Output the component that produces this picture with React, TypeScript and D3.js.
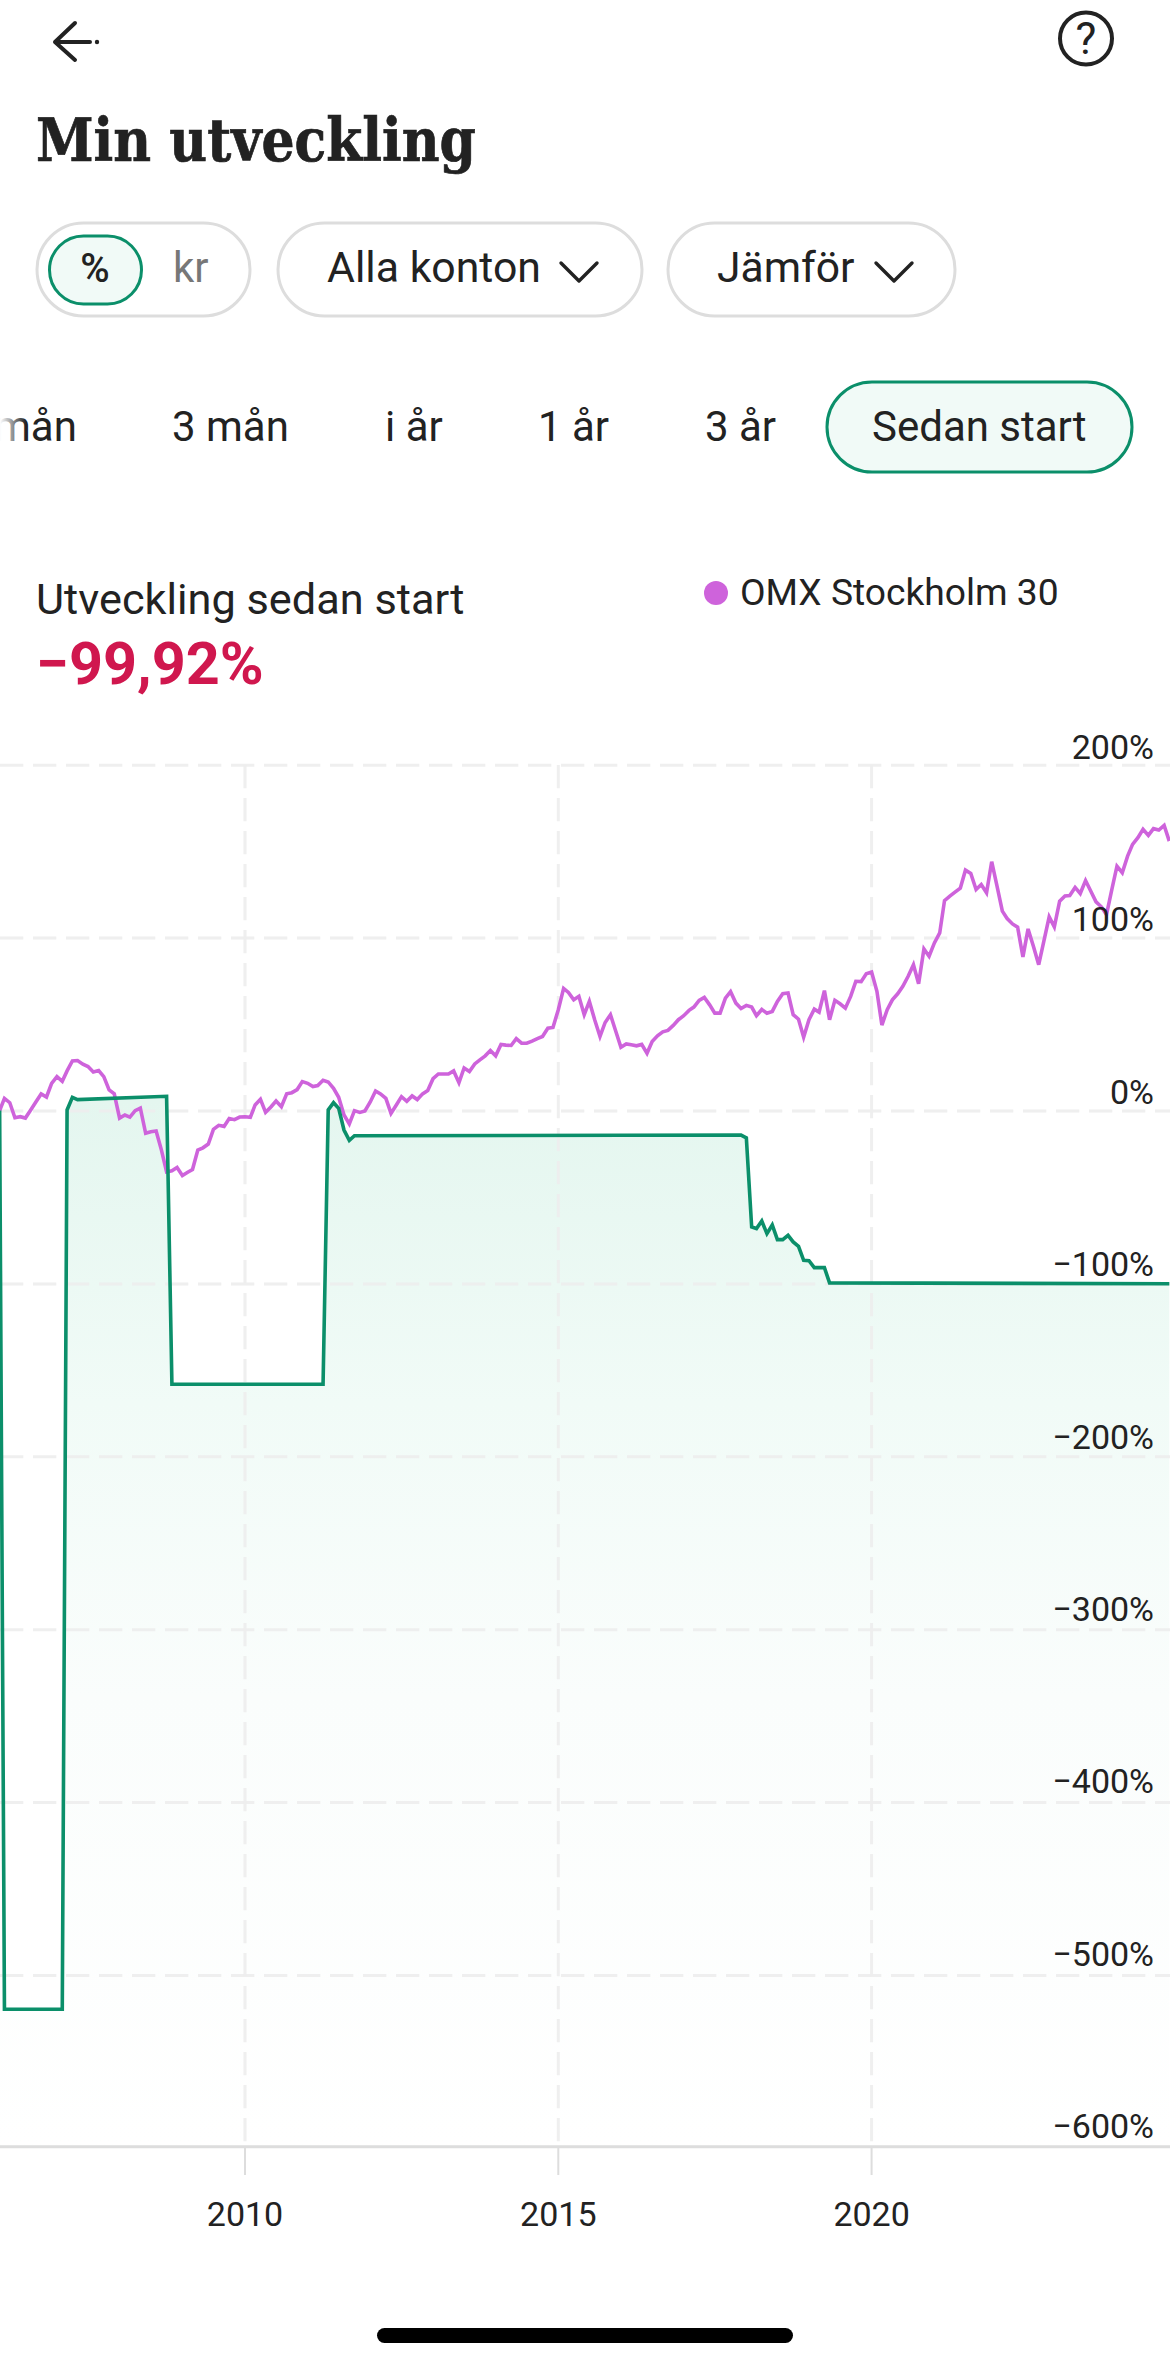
import React from "react";
import * as d3 from "d3";

const W = 1170, H = 2367;
const FONT = "Roboto, sans-serif";

// Month count since Feb 2006 for every reading; OMX is read monthly.
const START_DATE = new Date(2006, 1, 1);

const omxValues = [
  0.2,7.3,4.8,-3.9,-3.3,-4.1,0.6,5.4,9.9,8.1,16.0,19.9,17.2,23.2,29.0,29.2,27.1,25.7,22.6,23.4,
  19.9,12.2,9.9,-4.1,-2.3,-3.5,0.2,1.7,-12.9,-12.0,-11.6,-22.6,-35.2,-34.6,-32.7,-37.3,-35.4,-33.8,-22.6,-21.3,
  -19.1,-10.6,-8.3,-8.9,-4.3,-5.0,-3.5,-3.3,-3.7,3.5,6.8,-0.8,2.3,5.8,2.5,10.0,10.6,12.4,17.0,16.0,
  14.1,14.7,17.8,16.8,13.1,7.9,-2.3,-7.5,0.2,-0.8,0,5.2,11.6,9.9,7.3,-1.4,3.5,8.3,5.6,8.7,
  6.6,9.9,11.8,18.7,21.4,21.4,21.4,23.2,16.4,24.9,22.8,27.2,29.6,31.9,35.0,31.9,38.5,38.1,37.9,41.9,
  39.2,39.2,40.4,41.9,43.1,47.9,48.3,58.6,70.9,68.6,64.3,66.3,55.7,63.4,52.8,43.1,51.2,55.7,46.4,36.9,
  38.8,38.3,37.7,38.5,33.4,40.2,43.5,45.8,46.6,49.5,52.8,55.1,58.2,60.1,64.0,65.7,61.4,56.6,56.6,65.3,
  69.0,62.4,59.3,61.1,60.1,55.1,58.7,56.6,57.6,63.4,67.8,68.2,55.7,53.1,42.7,52.8,58.9,57.2,69.6,52.8,
  64.0,62.0,59.5,66.3,75.0,74.8,79.4,80.4,69.2,49.7,58.6,64.3,67.8,72.1,77.9,84.6,73.6,93.7,89.5,97.2,
  103.0,121.7,124.3,126.6,128.9,139.3,137.4,128.1,131.0,126.2,144.2,130.1,115.6,111.3,108.2,106.3,89.1,105.3,95.3,84.6,
  98.2,112.3,106.5,121.4,124.4,124.6,129.3,125.8,133.3,127.2,121.0,118.1,113.6,128.1,141.6,137.8,147.4,154.2,158.1,162.9,
  159.4,163.3,162.5,165.2,156.1,
];

const accountMonths = [
  0,1,12,13,14,15,32,33,62,63,64,65,66,67,68,142,143,144,145,146,147,148,149,150,151,152,153,154,155,156,158,159,224,
];
const accountValues = [
  0.3,-519.5,-519.5,0.6,7.9,6.6,8.5,-158,-158,0.6,4.8,1.5,-11,-17,-14.3,-13.9,-15.5,-67.1,-68.0,-63.6,-70.9,-65.9,-74.4,-74.4,-71.9,-75.7,-78.3,-86.4,-86.6,-90.6,-90.6,-99.4,-99.92,
];

const yTicks = [200,100,0,-100,-200,-300,-400,-500,-600];
const xYears = [2010,2015,2020];
const periodTabs = [
  { label: "mån", x: -6 },
  { label: "3 mån", x: 172 },
  { label: "i år", x: 385 },
  { label: "1 år", x: 538 },
  { label: "3 år", x: 705 },
];

const dateOf = (m: number) => d3.timeMonth.offset(START_DATE, m);

export default function App() {
  const x = d3.scaleTime().domain([new Date(2010,0,1), new Date(2020,0,1)]).range([245,871.6]);
  const y = d3.scaleLinear().domain([0,-500]).range([1111,1975.5]);
  const labelY = d3.scaleLinear().domain([200,-600]).range([759,2138.3]);
  const baseY = 2146.7;

  const omxLine = d3.line<number>().x((_, i) => x(dateOf(i))).y(d => y(d));
  const accPts = accountMonths.map((m, i) => ({ m, v: accountValues[i] }));
  const accLine = d3.line<{m:number;v:number}>().x(d => x(dateOf(d.m))).y(d => y(d.v));
  const accArea = d3.area<{m:number;v:number}>().x(d => x(dateOf(d.m))).y0(baseY).y1(d => y(d.v));

  const t = (s: string, px: number, py: number, size: number, fill = "#222", extra: any = {}) => (
    <text x={px} y={py} fontSize={size} fill={fill} fontFamily={FONT} {...extra}>{s}</text>
  );
  const chev = (x0: number) => (
    <path d={`M${x0} 263 L${x0+18} 281 L${x0+36} 263`} fill="none" stroke="#222" strokeWidth={3.4} strokeLinecap="round" strokeLinejoin="round"/>
  );

  return (
    <svg width={W} height={H} viewBox={`0 0 ${W} ${H}`} style={{position:"absolute",left:0,top:0,display:"block",background:"#fff"}}>
      <defs>
        <linearGradient id="areaFill" gradientUnits="userSpaceOnUse" x1="0" x2="0" y1={1100} y2={2146}>
          <stop offset="0" stopColor="#e4f6ef"/>
          <stop offset="0.29" stopColor="#f1fbf7"/>
          <stop offset="0.57" stopColor="#fafdfc"/>
          <stop offset="1" stopColor="#ffffff"/>
        </linearGradient>
        <linearGradient id="fadeL" x1="0" x2="1" y1="0" y2="0">
          <stop offset="0" stopColor="#fff" stopOpacity="1"/>
          <stop offset="1" stopColor="#fff" stopOpacity="0"/>
        </linearGradient>
      </defs>

      {/* header */}
      <path d="M75 23 L55 42 L75 60 M55 42 L90 42" fill="none" stroke="#222" strokeWidth={4} strokeLinecap="round" strokeLinejoin="round"/>
      <circle cx={97} cy={42} r={2.2} fill="#222"/>
      <circle cx={1086} cy={38.5} r={26} fill="none" stroke="#222" strokeWidth={4}/>
      {t("?", 1086, 54, 44, "#222", {textAnchor:"middle"})}

      <text x={36} y={161} fontFamily="'DejaVu Serif', serif" fontWeight={700} fontSize={59} fill="#222" stroke="#222" strokeWidth={0.7} textLength={440} lengthAdjust="spacingAndGlyphs">Min utveckling</text>

      {/* chips */}
      <rect x={37} y={223} width={213} height={93} rx={46.5} fill="#fff" stroke="#ddd" strokeWidth={3}/>
      <rect x={49.5} y={236} width={92} height={68} rx={34} fill="#f1faf7" stroke="#0b8f6a" strokeWidth={3}/>
      {t("%", 95, 282, 40, "#222", {textAnchor:"middle", fontWeight:500})}
      {t("kr", 173, 282, 42, "#777")}
      <rect x={278} y={223} width={364} height={93} rx={46.5} fill="#fff" stroke="#ddd" strokeWidth={3}/>
      {t("Alla konton", 327, 282, 42.8)}
      {chev(561)}
      <rect x={668} y={223} width={287} height={93} rx={46.5} fill="#fff" stroke="#ddd" strokeWidth={3}/>
      {t("Jämför", 717, 282, 42.6)}
      {chev(876)}

      {/* tabs */}
      {periodTabs.map(p => <React.Fragment key={p.label}>{t(p.label, p.x, 441, 42)}</React.Fragment>)}
      <rect x={0} y={390} width={26} height={70} fill="url(#fadeL)"/>
      <rect x={827} y={382} width={305} height={90} rx={45} fill="#f1faf7" stroke="#0b8f6a" strokeWidth={3}/>
      {t("Sedan start", 872, 441, 42)}

      {/* summary */}
      {t("Utveckling sedan start", 36, 614, 43.3)}
      <text x={36} y={684} fontFamily={FONT} fontWeight={700} fontSize={59.4} fill="#d0174e">−99,92%</text>
      <circle cx={716} cy={593} r={12} fill="#ce63db"/>
      {t("OMX Stockholm 30", 740, 605, 37.2)}

      {/* chart */}
      <path d={accArea(accPts) as string} fill="url(#areaFill)"/>
      {yTicks.slice(0,-1).map(v => (
        <line key={v} x1={0} x2={W} y1={y(v)} y2={y(v)} stroke="#eeeeee" strokeWidth={3} strokeDasharray="23.3 9.7" opacity={0.9}/>
      ))}
      {xYears.map(yr => {
        const px = x(new Date(yr,0,1));
        return (
          <g key={yr}>
            <line x1={px} x2={px} y1={765} y2={baseY} stroke="#eeeeee" strokeWidth={3} strokeDasharray="23.3 9.7" opacity={0.9}/>
            <line x1={px} x2={px} y1={baseY} y2={2175} stroke="#dddddd" strokeWidth={2}/>
            <text x={px} y={2226} textAnchor="middle" fontSize={34} fill="#222" fontFamily={FONT}>{yr}</text>
          </g>
        );
      })}
      <line x1={0} x2={W} y1={baseY} y2={baseY} stroke="#dddddd" strokeWidth={3}/>
      <path d={omxLine(omxValues) as string} fill="none" stroke="#ce63db" strokeWidth={3.6}/>
      <path d={accLine(accPts) as string} fill="none" stroke="#0b8f6a" strokeWidth={3.6}/>
      {yTicks.map(v => (
        <text key={v} x={1154} y={labelY(v)} textAnchor="end" fontSize={34} fill="#222" fontFamily={FONT}>
          {(v < 0 ? "−" : "") + Math.abs(v) + "%"}
        </text>
      ))}

      <rect x={377} y={2328} width={416} height={15} rx={7.5} fill="#000"/>
    </svg>
  );
}
